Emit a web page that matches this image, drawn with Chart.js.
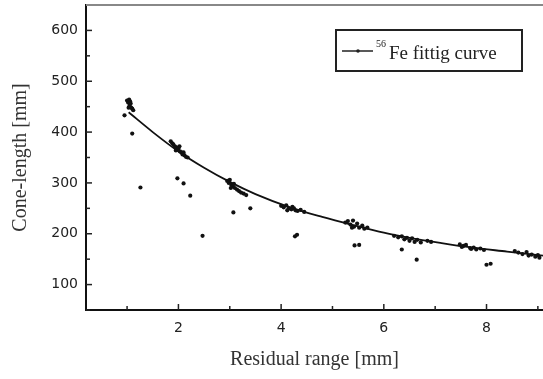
<!DOCTYPE html>
<html>
<head>
<meta charset="utf-8">
<script src="https://cdn.jsdelivr.net/npm/chart.js@4"></script>
<style>
  html, body { margin: 0; padding: 0; background: #fff; }
  #wrap { width: 543px; height: 379px; }
</style>
</head>
<body>
<div id="wrap"><canvas id="chart" width="543" height="379"></canvas></div>
<script>
// fitted curve
let curveX = [1.03, 1.5, 2.0, 2.5, 3.0, 3.5, 4.2, 4.8, 5.4, 6.0, 6.5, 7.1, 7.7, 8.4, 9.1]
let curveY = [439, 400, 362, 330, 302, 278, 251, 233, 217, 202, 192, 182, 173, 165, 157]

// measured points (clusters + outliers)
let pointX = [
    1.0, 1.02, 1.04, 1.05, 1.07, 1.08, 1.1, 1.12, 1.03, 1.06, 0.95, 1.1, 1.26,
    1.85, 1.88, 1.9, 1.93, 1.96, 1.98, 2.0, 2.03, 2.06, 2.08, 2.12, 2.15, 2.18, 1.95, 2.02, 2.1,
    1.98, 2.1, 2.23, 2.47,
    2.95, 2.98, 3.0, 3.03, 3.06, 3.1, 3.14, 3.18, 3.22, 3.27, 3.32, 3.02, 3.08,
    3.07, 3.4,
    4.0, 4.05, 4.1, 4.15, 4.2, 4.22, 4.28, 4.32, 4.38, 4.45, 4.12, 4.25,
    4.31, 4.27,
    5.25, 5.3, 5.35, 5.4, 5.42, 5.48, 5.52, 5.58, 5.62, 5.68, 5.38,
    5.43, 5.52,
    6.2, 6.28, 6.35, 6.4, 6.45, 6.5, 6.55, 6.6, 6.65, 6.72, 6.85, 6.92,
    6.35, 6.64,
    7.48, 7.55, 7.6, 7.68, 7.75, 7.8, 7.88, 7.95, 7.52, 7.7,
    8.0, 8.08,
    8.55, 8.62, 8.7, 8.78, 8.82, 8.88, 8.95, 9.0, 9.03
]
let pointY = [
    462, 458, 464, 452, 456, 448, 446, 443, 448, 460, 433, 397, 291,
    382, 378, 376, 372, 370, 366, 368, 362, 360, 356, 354, 351, 350, 364, 372, 360,
    309, 299, 275, 196,
    304, 300, 306, 296, 293, 290, 287, 284, 281, 279, 276, 290, 298,
    242, 250,
    255, 252, 256, 250, 248, 253, 246, 245, 247, 243, 246, 250,
    198, 195,
    222, 225, 218, 226, 214, 220, 212, 216, 210, 212, 212,
    177, 178,
    196, 193, 195, 189, 192, 186, 191, 184, 188, 183, 186, 184,
    169, 149,
    179, 176, 178, 172, 173, 169, 171, 168, 174, 170,
    139, 141,
    166, 163, 160, 164, 157, 159, 155, 158, 153
]

let xMajor = [2, 4, 6, 8]

let points = pointX.map((x, i) => ({ x: x, y: pointY[i] }))
let curve = curveX.map((x, i) => ({ x: x, y: curveY[i] }))

// ticks pointing into the plot, top frame line, legend box
let frame = {
    id: "frame",
    afterDraw(chart) {
        let ctx = chart.ctx
        let a = chart.chartArea
        let xs = chart.scales.x
        let ys = chart.scales.y
        ctx.save()
        ctx.strokeStyle = "#222"
        ctx.lineWidth = 1.5
        xs.ticks.forEach(t => {
            let px = xs.getPixelForValue(t.value)
            let len = xMajor.includes(t.value) ? 6 : 4
            ctx.beginPath()
            ctx.moveTo(px, a.bottom)
            ctx.lineTo(px, a.bottom - len)
            ctx.stroke()
        })
        ys.ticks.forEach(t => {
            let py = ys.getPixelForValue(t.value)
            let len = t.value % 100 === 0 ? 6 : 4
            ctx.beginPath()
            ctx.moveTo(a.left, py)
            ctx.lineTo(a.left + len, py)
            ctx.stroke()
        })
        // top frame
        ctx.strokeStyle = "#888"
        ctx.lineWidth = 2
        ctx.beginPath()
        ctx.moveTo(a.left, a.top)
        ctx.lineTo(a.right, a.top)
        ctx.stroke()

        // legend
        let bx = a.right - 207, by = a.top + 25, bw = 186, bh = 41
        ctx.strokeStyle = "#222"
        ctx.lineWidth = 2
        ctx.strokeRect(bx, by, bw, bh)
        ctx.lineWidth = 1.5
        ctx.beginPath()
        ctx.moveTo(bx + 6, by + 21)
        ctx.lineTo(bx + 37, by + 21)
        ctx.stroke()
        ctx.fillStyle = "#222"
        ctx.beginPath()
        ctx.arc(bx + 22, by + 21, 1.8, 0, Math.PI * 2)
        ctx.fill()
        ctx.textBaseline = "alphabetic"
        ctx.font = "10px 'Liberation Serif'"
        ctx.fillText("56", bx + 40, by + 17)
        ctx.font = "19px 'Liberation Serif'"
        ctx.fillText("Fe fittig curve", bx + 53, by + 29)
        ctx.restore()
    }
}

new Chart(document.getElementById("chart"), {
    type: "scatter",
    data: {
        datasets: [
            {
                label: "points",
                data: points,
                pointRadius: 2.1,
                pointBorderWidth: 0,
                pointBackgroundColor: "#111"
            },
            {
                label: "56Fe fittig curve",
                type: "line",
                data: curve,
                borderColor: "#111",
                borderWidth: 1.8,
                pointRadius: 0,
                fill: false,
                cubicInterpolationMode: "monotone"
            }
        ]
    },
    options: {
        responsive: false,
        animation: false,
        layout: { autoPadding: false, padding: { top: 5, right: 0, left: 0, bottom: 0 } },
        plugins: { legend: { display: false }, tooltip: { enabled: false } },
        scales: {
            x: {
                type: "linear",
                min: 0.2,
                max: 9.1,
                afterFit: s => { s.height = 69; s.paddingLeft = 0; s.paddingRight = 0 },
                grid: { display: false, drawTicks: false },
                border: { display: true, color: "#111", width: 2 },
                ticks: {
                    stepSize: 1,
                    includeBounds: false,
                    autoSkip: false,
                    maxRotation: 0,
                    padding: 10,
                    color: "#222",
                    font: { family: "'DejaVu Sans'", size: 14 },
                    callback: v => xMajor.includes(v) ? v : ""
                },
                title: {
                    display: true,
                    text: "Residual range [mm]",
                    color: "#333",
                    padding: 7,
                    font: { family: "'Liberation Serif'", size: 20 }
                }
            },
            y: {
                min: 50,
                max: 650,
                afterFit: s => { s.width = 86; s.paddingTop = 0; s.paddingBottom = 0 },
                grid: { display: false, drawTicks: false },
                border: { display: true, color: "#111", width: 2 },
                ticks: {
                    stepSize: 50,
                    includeBounds: false,
                    autoSkip: false,
                    padding: 8,
                    color: "#222",
                    font: { family: "'DejaVu Sans'", size: 14 },
                    callback: v => (v % 100 === 0 && v >= 100 && v <= 600) ? v : ""
                },
                title: {
                    display: true,
                    text: "Cone-length [mm]",
                    color: "#333",
                    padding: 9,
                    font: { family: "'Liberation Serif'", size: 20 }
                }
            }
        }
    },
    plugins: [frame]
})
</script>
</body>
</html>
